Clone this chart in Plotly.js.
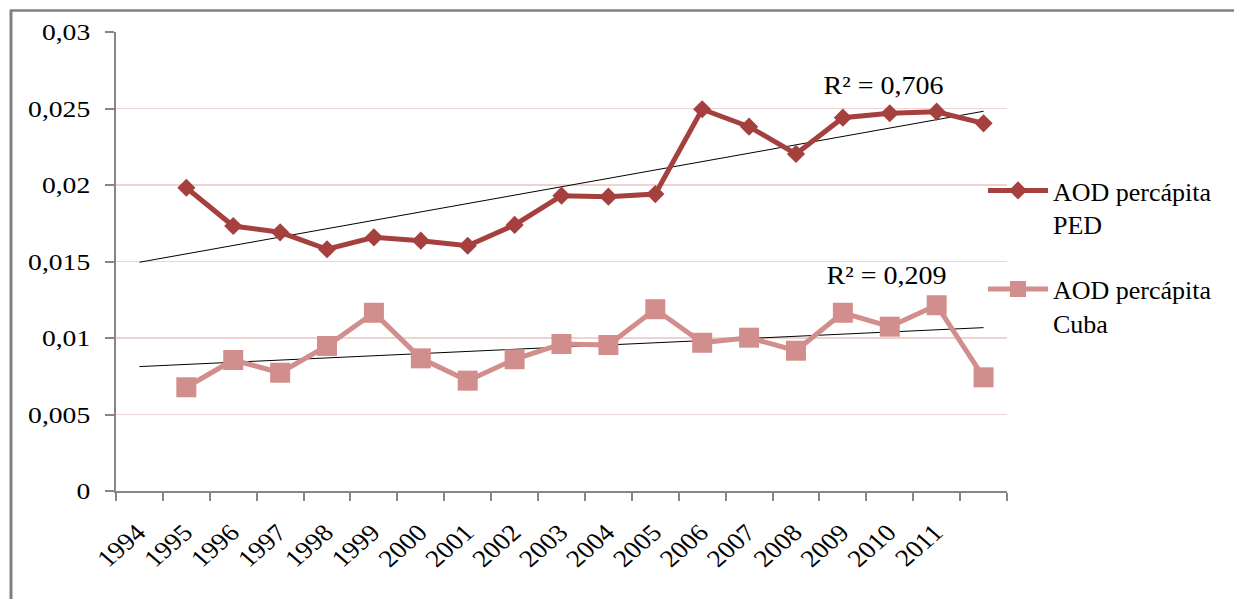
<!DOCTYPE html>
<html>
<head>
<meta charset="utf-8">
<script src="https://cdn.plot.ly/plotly-3.0.1.min.js"></script>
<style>
  html, body { margin: 0; padding: 0; background: #ffffff; }
  #chart { width: 1234px; height: 599px; }
  /* the original picture is slightly stretched horizontally: widen text the same way */
  #chart g.ytick { transform-box: fill-box; transform-origin: right center; transform: scaleX(1.15); }
  #chart g.xtick { transform-box: fill-box; transform-origin: right top; transform: scaleX(1.15); }
  #chart g.annotation-text-g { transform-box: fill-box; transform-origin: center; transform: scaleX(1.12); }
</style>
</head>
<body>
<div id="chart"></div>
<script>
// Category labels on the x axis (the last slot has no label in the original)
const yearLabels = ["1994","1995","1996","1997","1998","1999","2000","2001","2002","2003","2004","2005","2006","2007","2008","2009","2010","2011"," "];

// Series values; they occupy the 2nd..19th slots
const pedValues = [0.01982,0.01732,0.01691,0.01580,0.01658,0.01636,0.01603,0.01739,0.01930,0.01924,0.01941,0.02495,0.02381,0.02203,0.02440,0.02469,0.02479,0.02403];
const cubaValues = [0.00678,0.00856,0.00773,0.00948,0.01165,0.00867,0.00721,0.00861,0.00961,0.00954,0.01188,0.00969,0.01002,0.00917,0.01165,0.01074,0.01214,0.00743];

const seriesNames = ["AOD percápita<br>PED", "AOD percápita<br>Cuba"];
const r2Labels = ["R² = 0,706", "R² = 0,209"];

const pedColor = "#A5403E";
const cubaColor = "#D28E8C";
const axisGray = "#868686";
const fontFam = "Liberation Serif";

const dataX = yearLabels.slice(1);

// Linear least-squares trend (as the spreadsheet trendline), drawn over all slots
function trend(vals) {
  const xs = vals.map((_, i) => i + 1);
  const n = vals.length;
  const mx = xs.reduce((a, b) => a + b, 0) / n;
  const my = vals.reduce((a, b) => a + b, 0) / n;
  let sxy = 0, sxx = 0;
  for (let i = 0; i < n; i++) { sxy += (xs[i] - mx) * (vals[i] - my); sxx += (xs[i] - mx) ** 2; }
  const b = sxy / sxx, a = my - b * mx;
  return yearLabels.map((_, i) => a + b * i);
}

const traces = [
  { x: yearLabels, y: trend(pedValues), type: "scatter", mode: "lines",
    line: { color: "#000000", width: 1 }, showlegend: false, hoverinfo: "skip" },
  { x: yearLabels, y: trend(cubaValues), type: "scatter", mode: "lines",
    line: { color: "#000000", width: 1 }, showlegend: false, hoverinfo: "skip" },
  { x: dataX, y: pedValues, name: seriesNames[0], type: "scatter", mode: "lines+markers",
    line: { color: pedColor, width: 5 },
    marker: { symbol: "diamond", size: 14, color: pedColor }, legendgroup: "a" },
  { x: dataX, y: cubaValues, name: seriesNames[1], type: "scatter", mode: "lines+markers",
    line: { color: cubaColor, width: 5 },
    marker: { symbol: "square", size: 20, color: cubaColor }, legendgroup: "b" }
];

const L = 116, R = 1007, T = 32, B = 491;
const px = v => (v - L) / (R - L);
const py = v => 1 - (v - T) / (B - T);

const layout = {
  width: 1234, height: 599,
  margin: { l: L, r: 1234 - R, t: T, b: 599 - B, autoexpand: false },
  paper_bgcolor: "#ffffff", plot_bgcolor: "#ffffff",
  separators: ", ",
  font: { family: fontFam, color: "#000000", size: 24 },
  xaxis: {
    type: "category", categoryorder: "array", categoryarray: yearLabels,
    range: [-0.5, yearLabels.length - 0.5],
    tickson: "boundaries", ticks: "outside", ticklen: 8, tickwidth: 2, tickcolor: axisGray,
    showline: true, linecolor: axisGray, linewidth: 2,
    showgrid: false, zeroline: false, tickangle: -45,
    tickfont: { family: fontFam, size: 24, color: "#000000" },
    ticklabelstandoff: 16
  },
  yaxis: {
    range: [0, 0.03], dtick: 0.005, tick0: 0,
    ticks: "outside", ticklen: 9, tickwidth: 2, tickcolor: axisGray,
    showline: true, linecolor: axisGray, linewidth: 2,
    showgrid: true, gridcolor: "#EFD3D2", gridwidth: 1.5, zeroline: false,
    tickfont: { family: fontFam, size: 24, color: "#000000" },
    ticklabelstandoff: 10
  },
  legend: {
    x: px(983), y: py(167), xanchor: "left", yanchor: "top",
    font: { family: fontFam, size: 26, color: "#000000" },
    bgcolor: "rgba(0,0,0,0)", traceorder: "grouped", tracegroupgap: 28,
    itemwidth: 60, valign: "top"
  },
  annotations: [
    { xref: "paper", yref: "paper", x: px(883), y: py(85), text: r2Labels[0], showarrow: false,
      font: { family: fontFam, size: 25, color: "#000000" }, xanchor: "center", yanchor: "middle" },
    { xref: "paper", yref: "paper", x: px(886), y: py(275), text: r2Labels[1], showarrow: false,
      font: { family: fontFam, size: 25, color: "#000000" }, xanchor: "center", yanchor: "middle" }
  ],
  shapes: [
    { type: "line", xref: "paper", yref: "paper", x0: px(10), x1: px(1240), y0: py(10.5), y1: py(10.5),
      line: { color: "#808080", width: 2.5 } },
    { type: "line", xref: "paper", yref: "paper", x0: px(11), x1: px(11), y0: py(10), y1: py(610),
      line: { color: "#808080", width: 3 } }
  ],
  showlegend: true
};

Plotly.newPlot("chart", traces, layout, { displayModeBar: false, staticPlot: true });
</script>
</body>
</html>
